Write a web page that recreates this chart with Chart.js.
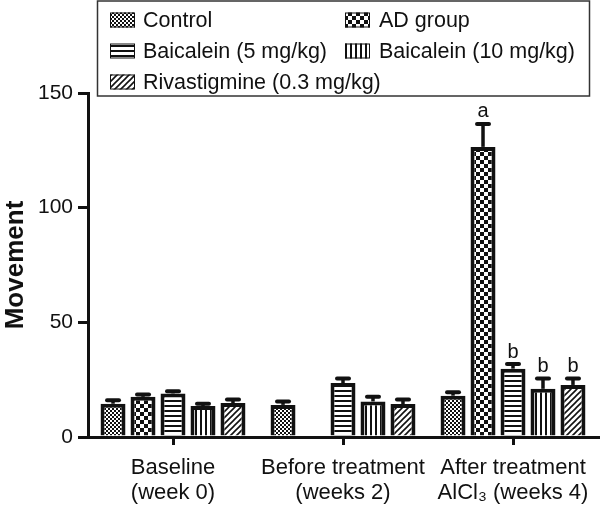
<!DOCTYPE html>
<html>
<head>
<meta charset="utf-8">
<script src="https://cdn.jsdelivr.net/npm/chart.js@4/dist/chart.umd.min.js"></script>
<style>
  html, body { margin: 0; padding: 0; background: #fff; }
  #wrap { width: 606px; height: 505px; }
</style>
</head>
<body>
<div id="wrap"><canvas id="movementChart" width="606" height="505"></canvas></div>
<script>
// categories and values
const categories = [
    ['Baseline', '(week 0)'],
    ['Before treatment', '(weeks 2)'],
    ['After treatment', 'AlCl\u2083 (weeks 4)']
];
const groupNames = ['Control', 'AD group', 'Baicalein (5 mg/kg)', 'Baicalein (10 mg/kg)', 'Rivastigmine (0.3 mg/kg)'];

const controlValues = [14.5, 14, 18];
const adValues = [17.5, null, 126.5];
const baicalein5Values = [19, 23.5, 29.8];
const baicalein10Values = [13.5, 15.5, 21];
const rivastigmineValues = [14.8, 14.4, 22.7];

const controlErr = [1.5, 1.5, 1.5];
const adErr = [1, null, 10];
const baicalein5Err = [1, 2, 2];
const baicalein10Err = [1, 2, 4.5];
const rivastigmineErr = [1.5, 2, 2.8];

const controlSig = ['', '', ''];
const adSig = ['', '', 'a'];
const baicalein5Sig = ['', '', 'b'];
const baicalein10Sig = ['', '', 'b'];
const rivastigmineSig = ['', '', 'b'];

const yTicks = [0, 50, 100, 150];

const FONT = '"Liberation Sans", Arial, sans-serif';

// black and white fill patterns
function makePattern(size, draw) {
    const c = document.createElement('canvas');
    c.width = size;
    c.height = size;
    const g = c.getContext('2d');
    g.fillStyle = '#fff';
    g.fillRect(0, 0, size, size);
    g.fillStyle = '#111';
    g.strokeStyle = '#111';
    draw(g, size);
    return g.createPattern(c, 'repeat');
}

const patterns = [
    makePattern(4, (g) => { g.fillRect(0, 0, 2, 2); g.fillRect(2, 2, 2, 2); }),
    makePattern(8, (g) => { g.fillRect(0, 0, 4, 4); g.fillRect(4, 4, 4, 4); }),
    makePattern(5, (g) => { g.fillRect(0, 0, 5, 2); }),
    makePattern(5, (g) => { g.fillRect(0, 0, 2, 5); }),
    makePattern(6, (g) => {
        g.lineWidth = 1.6;
        g.beginPath();
        g.moveTo(-1, 7); g.lineTo(7, -1);
        g.moveTo(-4, 4); g.lineTo(4, -4);
        g.moveTo(2, 10); g.lineTo(10, 2);
        g.stroke();
    })
];

const values = [controlValues, adValues, baicalein5Values, baicalein10Values, rivastigmineValues];
const errors = [controlErr, adErr, baicalein5Err, baicalein10Err, rivastigmineErr];
const sigs = [controlSig, adSig, baicalein5Sig, baicalein10Sig, rivastigmineSig];

const datasets = groupNames.map((name, i) => ({
    label: name,
    data: values[i],
    errors: errors[i],
    sig: sigs[i],
    backgroundColor: patterns[i],
    borderColor: '#111',
    borderWidth: 4,
    borderSkipped: 'start',
    categoryPercentage: 0.882,
    barPercentage: 0.833
}));

// upward error bars and significance letters
const errorBarPlugin = {
    id: 'errorBars',
    afterDatasetsDraw(chart) {
        const ctx = chart.ctx;
        const yScale = chart.scales.y;
        chart.data.datasets.forEach((ds, i) => {
            const meta = chart.getDatasetMeta(i);
            meta.data.forEach((bar, j) => {
                const v = ds.data[j];
                const e = ds.errors[j];
                if (v == null || e == null) return;
                const top = yScale.getPixelForValue(v + e);
                ctx.save();
                ctx.strokeStyle = '#111';
                ctx.lineWidth = 3.5;
                ctx.beginPath();
                ctx.moveTo(bar.x, bar.y);
                ctx.lineTo(bar.x, top);
                ctx.stroke();
                ctx.lineWidth = 4;
                ctx.lineCap = 'round';
                ctx.beginPath();
                ctx.moveTo(bar.x - 6, top);
                ctx.lineTo(bar.x + 6, top);
                ctx.stroke();
                if (ds.sig[j]) {
                    ctx.fillStyle = '#111';
                    ctx.font = '20px ' + FONT;
                    ctx.textAlign = 'center';
                    ctx.textBaseline = 'middle';
                    ctx.fillText(ds.sig[j], bar.x, top - 12);
                }
                ctx.restore();
            });
        });
    }
};

// two column boxed legend
const boxLegendPlugin = {
    id: 'boxLegend',
    afterDraw(chart) {
        const ctx = chart.ctx;
        ctx.save();
        ctx.strokeStyle = '#333';
        ctx.lineWidth = 1.5;
        ctx.strokeRect(97.5, 1, 492, 95);
        const iconX = [110, 345];
        const textX = [143, 379];
        const rowY = [20, 51, 82];
        chart.data.datasets.forEach((ds, i) => {
            const col = i % 2;
            const y = rowY[Math.floor(i / 2)];
            ctx.fillStyle = ds.backgroundColor;
            ctx.fillRect(iconX[col], y - 7.5, 25, 15);
            ctx.strokeStyle = '#111';
            ctx.lineWidth = 1;
            ctx.strokeRect(iconX[col] + 0.5, y - 7, 24, 14);
            ctx.fillStyle = '#111';
            ctx.font = '21.5px ' + FONT;
            ctx.textAlign = 'left';
            ctx.textBaseline = 'middle';
            ctx.fillText(ds.label, textX[col], y + 1);
        });
        ctx.restore();
    }
};

const ctx = document.getElementById('movementChart').getContext('2d');
const movementChart = new Chart(ctx, {
    type: 'bar',
    data: {
        labels: categories,
        datasets: datasets
    },
    options: {
        responsive: false,
        animation: false,
        layout: {
            padding: { top: 93, right: 8, bottom: 0, left: 0 }
        },
        scales: {
            x: {
                grid: {
                    offset: false,
                    drawOnChartArea: false,
                    color: '#111',
                    lineWidth: 3,
                    tickLength: 8
                },
                border: { color: '#111', width: 3 },
                ticks: {
                    color: '#111',
                    padding: 10,
                    maxRotation: 0,
                    font: { family: FONT, size: 22, lineHeight: 1.15 }
                },
                afterFit: function(scale) { scale.height = 68; }
            },
            y: {
                min: 0,
                max: 150,
                afterBuildTicks: function(scale) {
                    scale.ticks = yTicks.map(v => ({ value: v }));
                },
                grid: {
                    drawOnChartArea: false,
                    color: '#111',
                    lineWidth: 3,
                    tickLength: 10
                },
                border: { color: '#111', width: 3 },
                ticks: {
                    color: '#111',
                    padding: 5,
                    font: { family: FONT, size: 21 }
                },
                title: {
                    display: true,
                    text: 'Movement',
                    color: '#111',
                    padding: { top: 0, bottom: 0 },
                    font: { family: FONT, size: 26, weight: 'bold' }
                },
                afterFit: function(scale) { scale.width = 88; }
            }
        },
        plugins: {
            legend: { display: false },
            tooltip: { enabled: false }
        }
    },
    plugins: [errorBarPlugin, boxLegendPlugin]
});
</script>
</body>
</html>
